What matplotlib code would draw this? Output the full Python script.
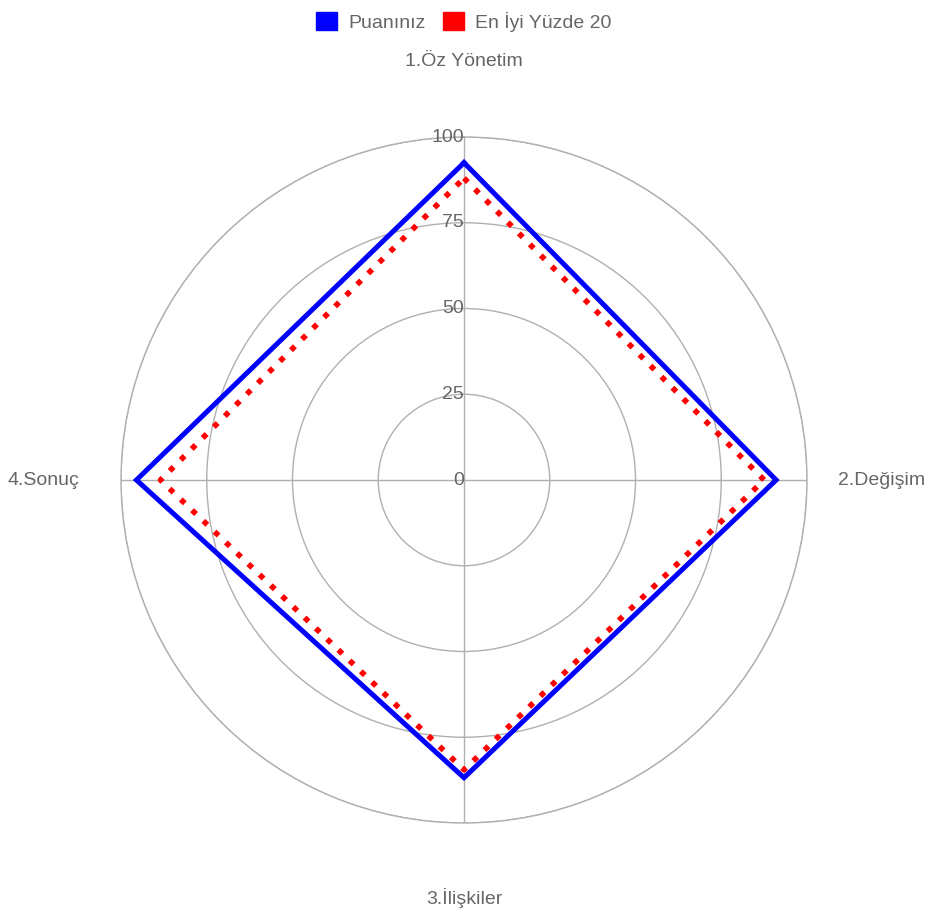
import numpy as np
import matplotlib
matplotlib.use('Agg')
import matplotlib.pyplot as plt
from matplotlib.patches import Patch

plt.rcParams['font.family'] = ['Liberation Sans', 'DejaVu Sans']

categories = ['1.Öz Yönetim', '2.Değişim', '3.İlişkiler', '4.Sonuç']
puaniniz = [92.5, 91, 86.8, 95.5]
en_iyi_20 = [88, 87.5, 84.5, 88.5]
r_ticks = [0, 25, 50, 75, 100]
series_names = ['Puanınız', 'En İyi Yüzde 20']

GRAY_TXT = '#666666'
GRID = '#b0b0b0'
FS = 14

angles = np.linspace(0, 2 * np.pi, len(categories), endpoint=False)
closed = np.append(angles, angles[0])

fig = plt.figure(figsize=(9.27, 9.13), dpi=100)
ax = fig.add_axes([121 / 927, 90 / 913, 686 / 927, 686 / 913], projection='polar')
ax.set_theta_zero_location('N')
ax.set_theta_direction(-1)
ax.set_ylim(0, 100)

ax.set_yticks(r_ticks[1:])
ax.set_yticklabels([])
ax.set_xticks(angles)
ax.set_xticklabels([])
ax.grid(True, color=GRID, linewidth=1.0)
ax.spines['polar'].set_color(GRID)
ax.spines['polar'].set_linewidth(1.0)

for r in r_ticks:
    ax.text(0, r, str(r), ha='right', va='center', fontsize=FS, color=GRAY_TXT)

ax.plot(closed, np.append(puaniniz, puaniniz[0]), color='#0000ff', linewidth=3.6,
        solid_joinstyle='miter', zorder=3)
ax.plot(closed, np.append(en_iyi_20, en_iyi_20[0]), color='#ff0000', linewidth=4.0,
        linestyle=(0, (1, 1.8)), zorder=4)

# kategori etiketleri
label_pos = [(122, 'center'), (109, 'left'), (122, 'center'), (112, 'right')]
for ang, name, (r, ha) in zip(angles, categories, label_pos):
    ax.text(ang, r, name, ha=ha, va='center', fontsize=FS, color=GRAY_TXT, clip_on=False)

handles = [Patch(facecolor='#0000ff', edgecolor='#0000ff'),
           Patch(facecolor='#ff0000', edgecolor='#ff0000')]
leg = fig.legend(handles, series_names, loc='upper center', bbox_to_anchor=(0.5, 1.0),
                 ncol=2, frameon=False, fontsize=FS, handlelength=1.1, handleheight=1.1,
                 handletextpad=0.55, columnspacing=0.9, borderaxespad=0.2)
for t in leg.get_texts():
    t.set_color(GRAY_TXT)

fig.savefig('out.png', dpi=100)
